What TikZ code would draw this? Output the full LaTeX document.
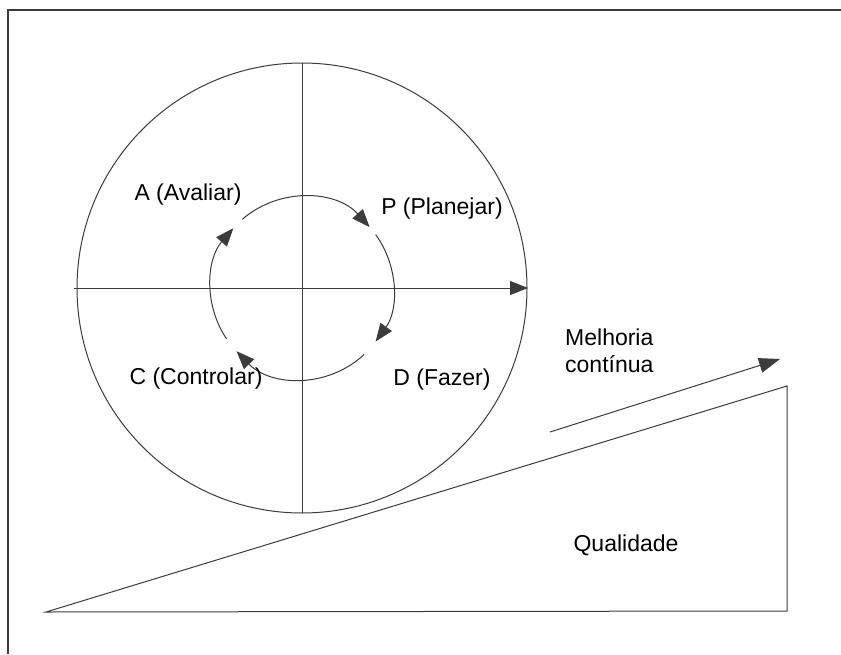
\documentclass[tikz,border=0pt]{standalone}
\usepackage{fontspec}
\setmainfont{Liberation Sans}
\usetikzlibrary{arrows.meta}
\definecolor{inkgray}{RGB}{60,60,60}
\tikzset{
  pdcaline/.style={inkgray, line width=1pt},
  cyclearrow/.style={pdcaline, -{Triangle[length=18pt,width=14pt]}},
  pdcalabel/.style={font=\fontsize{23}{27}\selectfont, inner sep=0pt}
}
\begin{document}
\begin{tikzpicture}[x=1pt, y=-1pt]
        % Page and frame
        \useasboundingbox (0,0) rectangle (841,654);
        \fill[white] (0,0) rectangle (841,654);
        \draw[inkgray, line width=1.3pt] (8,654) -- (8,10) -- (841,10);
        % Quality ramp
        \draw[pdcaline, line join=miter] (46,612) -- (787,611) -- (787,386) -- cycle;
        \node[pdcalabel] (quality) at (626,545) {Qualidade};
        % Continuous improvement
        \coordinate (impstart) at (550,432);
        \coordinate (impend) at (780,359);
        \draw[cyclearrow, -{Triangle[length=21pt,width=15pt]}] (impstart) -- (impend);
        \node[pdcalabel, anchor=west, align=left] (improve) at (565,351) {Melhoria\\contínua};
        % PDCA wheel
        \coordinate (hub) at (302,288);
        \draw[pdcaline] (hub) circle (225);
        \draw[pdcaline] (302,63) -- (302,513);
        \coordinate (axisleft) at (74,288);
        \coordinate (axisright) at (528,288);
        \draw[cyclearrow] (axisleft) -- (axisright);
        % Cycle arrows
        \draw[cyclearrow] ([shift={(-131:91)}]hub) arc (-131:-42:91);
        \draw[cyclearrow] ([shift={(-36:91)}]hub) arc (-36:36:91);
        \draw[cyclearrow] ([shift={(47:91)}]hub) arc (47:136:91);
        \draw[cyclearrow] ([shift={(146:91)}]hub) arc (146:221:91);
        % Quadrant labels
        \node[pdcalabel] (act) at (188,195) {A (Avaliar)};
        \node[pdcalabel] (plan) at (442,209) {P (Planejar)};
        \node[pdcalabel] (check) at (196,379) {C (Controlar)};
        \node[pdcalabel] (do) at (442,380) {D (Fazer)};
\end{tikzpicture}
\end{document}
